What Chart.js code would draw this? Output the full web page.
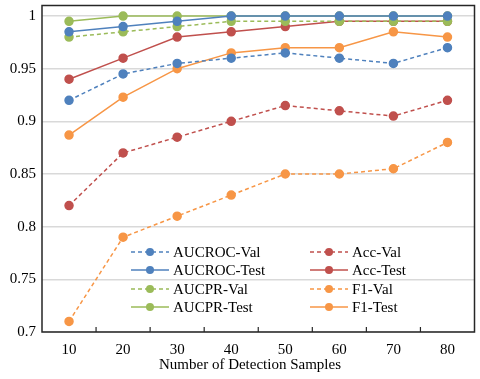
<!DOCTYPE html>
<html>
<head>
<meta charset="utf-8">
<script src="https://cdn.jsdelivr.net/npm/chart.js@4.4.0/dist/chart.umd.min.js"></script>
<style>
  html, body { margin: 0; padding: 0; background: #fff; }
  #wrap { width: 480px; height: 379px; }
</style>
</head>
<body>
<div id="wrap"><canvas id="chart" width="480" height="379"></canvas></div>
<script>
// values
var samples = ['10', '20', '30', '40', '50', '60', '70', '80'];
var yTicks = [0.7, 0.75, 0.8, 0.85, 0.9, 0.95, 1];
var xTitle = 'Number of Detection Samples';

var aucrocVal  = [0.92, 0.945, 0.955, 0.96, 0.965, 0.96, 0.955, 0.97];
var aucrocTest = [0.985, 0.99, 0.995, 1, 1, 1, 1, 1];
var aucprVal   = [0.98, 0.985, 0.99, 0.995, 0.995, 0.995, 0.995, 0.995];
var aucprTest  = [0.995, 1, 1, 1, 1, 1, 1, 1];
var accVal     = [0.82, 0.87, 0.885, 0.9, 0.915, 0.91, 0.905, 0.92];
var accTest    = [0.94, 0.96, 0.98, 0.985, 0.99, 0.995, 0.995, 0.995];
var f1Val      = [0.71, 0.79, 0.81, 0.83, 0.85, 0.85, 0.855, 0.88];
var f1Test     = [0.887, 0.923, 0.95, 0.965, 0.97, 0.97, 0.985, 0.98];

const blue = '#4F81BD', red = '#C0504D', green = '#9BBB59', orange = '#F79646';
const FONT = '"Liberation Serif", "Times New Roman", serif';

function series(label, data, color, dashed) {
    return {
        label: label,
        data: data,
        borderColor: color,
        backgroundColor: color,
        pointBackgroundColor: color,
        pointBorderColor: color,
        borderWidth: 1.5,
        borderDash: dashed ? [4, 3] : [],
        pointRadius: 4,
        pointHoverRadius: 4,
        tension: 0,
        fill: false
    };
}

// column 1 then column 2 of the legend
var datasets = [
    series('AUCROC-Val', aucrocVal, blue, true),
    series('AUCROC-Test', aucrocTest, blue, false),
    series('AUCPR-Val', aucprVal, green, true),
    series('AUCPR-Test', aucprTest, green, false),
    series('Acc-Val', accVal, red, true),
    series('Acc-Test', accTest, red, false),
    series('F1-Val', f1Val, orange, true),
    series('F1-Test', f1Test, orange, false)
];

// frame, inward x ticks, axis title and the legend inside the plot
var framePlugin = {
    id: 'frame',
    afterDatasetsDraw: function (chart) {
        var ctx = chart.ctx, a = chart.chartArea;
        var xs = chart.scales.x;
        ctx.save();
        ctx.strokeStyle = '#262626';
        ctx.lineWidth = 1.5;
        ctx.strokeRect(a.left, a.top, a.right - a.left, a.bottom - a.top);
        ctx.lineWidth = 1.2;
        for (let i = 0; i < samples.length - 1; i++) {
            var x = (xs.getPixelForValue(i) + xs.getPixelForValue(i + 1)) / 2;
            ctx.beginPath();
            ctx.moveTo(x, a.bottom);
            ctx.lineTo(x, a.bottom - 5);
            ctx.stroke();
        }

        ctx.font = '15px ' + FONT;
        ctx.textBaseline = 'middle';
        ctx.fillStyle = '#000';
        ctx.textAlign = 'center';
        ctx.fillText(xTitle, 250, 365);

        // legend
        var cols = [a.left + 89, a.left + 268];
        var rowY = [252, 270, 289, 307];
        for (let i = 0; i < chart.data.datasets.length; i++) {
            var ds = chart.data.datasets[i];
            var x0 = cols[Math.floor(i / 4)];
            var y = rowY[i % 4];
            ctx.strokeStyle = ds.borderColor;
            ctx.lineWidth = 1.5;
            ctx.setLineDash(ds.borderDash);
            ctx.beginPath();
            ctx.moveTo(x0, y);
            ctx.lineTo(x0 + 38, y);
            ctx.stroke();
            ctx.setLineDash([]);
            ctx.fillStyle = ds.borderColor;
            ctx.beginPath();
            ctx.arc(x0 + 19, y, 4, 0, Math.PI * 2);
            ctx.fill();
            ctx.fillStyle = '#000';
            ctx.textAlign = 'left';
            ctx.fillText(ds.label, x0 + 42, y + 1);
        }
        ctx.restore();
    }
};

new Chart(document.getElementById('chart'), {
    type: 'line',
    data: { labels: samples, datasets: datasets },
    plugins: [framePlugin],
    options: {
        responsive: false,
        animation: false,
        layout: { padding: { left: 0, right: 3, top: 4, bottom: 0 } },
        plugins: {
            legend: { display: false },
            tooltip: { enabled: false }
        },
        scales: {
            x: {
                type: 'category',
                offset: true,
                grid: { display: false, drawTicks: false },
                border: { display: false },
                ticks: {
                    color: '#000',
                    font: { family: FONT, size: 15 },
                    padding: 9,
                    maxRotation: 0
                },
                afterFit: function (s) {
                    s.height = 47;
                    s.paddingLeft = 0;
                    s.paddingRight = 0;
                }
            },
            y: {
                min: 0.7,
                max: 1.01,
                afterBuildTicks: function (s) {
                    s.ticks = yTicks.map(function (v) { return { value: v }; });
                },
                grid: {
                    color: '#D9D9D9',
                    lineWidth: 1.5,
                    drawTicks: false
                },
                border: { display: false },
                ticks: {
                    color: '#000',
                    font: { family: FONT, size: 15 },
                    padding: 6,
                    callback: function (v) { return String(+Number(v).toFixed(2)); }
                },
                afterFit: function (s) {
                    s.width = 42;
                    s.paddingTop = 0;
                    s.paddingBottom = 0;
                }
            }
        }
    }
});
</script>
</body>
</html>
